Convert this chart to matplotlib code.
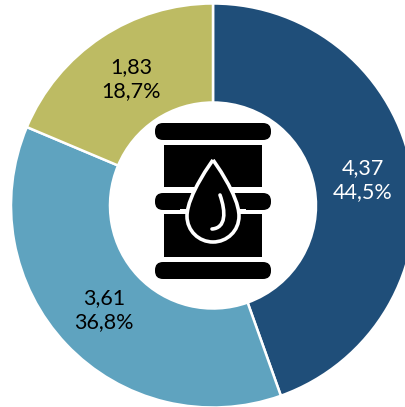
import matplotlib
matplotlib.use('Agg')
import matplotlib.pyplot as plt
from matplotlib.patches import FancyBboxPatch, Rectangle, PathPatch
from matplotlib.path import Path

plt.rcParams['font.family'] = ['Lato', 'DejaVu Sans']

values = [4.37, 3.61, 1.83]
value_labels = ['4,37', '3,61', '1,83']
pct_labels = ['44,5%', '36,8%', '18,7%']
colors = ['#1F4E79', '#5FA3BF', '#BDBB63']
text_colors = ['white', 'black', 'black']
# label centres in pixels
label_pos = [(363, 180), (104, 310), (131, 79)]

fig = plt.figure(figsize=(4.05, 4.07), dpi=100)
ax = fig.add_axes([0, 0, 1, 1])

# y axis is flipped below, so counterclock here reads clockwise on the picture
ax.pie(values, colors=colors, startangle=270, counterclock=True, center=(213, 205.5), radius=202,
       wedgeprops=dict(width=99, edgecolor='white', linewidth=1.8), frame=True)
ax.set_xlim(0, 405)
ax.set_ylim(407, 0)
ax.set_aspect('equal')
ax.axis('off')

for (x, y), v, p, c in zip(label_pos, value_labels, pct_labels, text_colors):
    ax.text(x, y, v + '\n' + p, color=c, fontsize=15.5, ha='center', va='center', linespacing=1.3)

# barrel icon
for y0 in [123, 193, 262]:
    ax.add_patch(FancyBboxPatch((163, y0 + 8), 100, 1, boxstyle='round,pad=8', fc='black', ec='none', zorder=3))
ax.add_patch(Rectangle((164, 145), 98, 42, fc='black', ec='none', zorder=3))
ax.add_patch(Rectangle((164, 214), 98, 43, fc='black', ec='none', zorder=3))

# drop
verts = [(213, 160), (213, 160), (187, 195), (187, 216), (187, 231), (199, 242), (213, 242),
         (227, 242), (239, 231), (239, 216), (239, 195), (213, 160), (213, 160)]
codes = [Path.MOVETO] + [Path.CURVE4] * 12
ax.add_patch(PathPatch(Path(verts, codes), fc='black', ec='white', lw=2.6, zorder=4))
ax.add_patch(Rectangle((180, 209), 8, 5, fc='white', ec='none', zorder=3))
ax.add_patch(Rectangle((238, 209), 8, 5, fc='white', ec='none', zorder=3))
ax.add_patch(PathPatch(Path([(220, 195), (226, 212), (226, 228), (212, 229)],
                            [Path.MOVETO, Path.CURVE4, Path.CURVE4, Path.CURVE4]),
                       fc='none', ec='white', lw=2.6, capstyle='round', zorder=5))

fig.savefig('out.png', dpi=100)
